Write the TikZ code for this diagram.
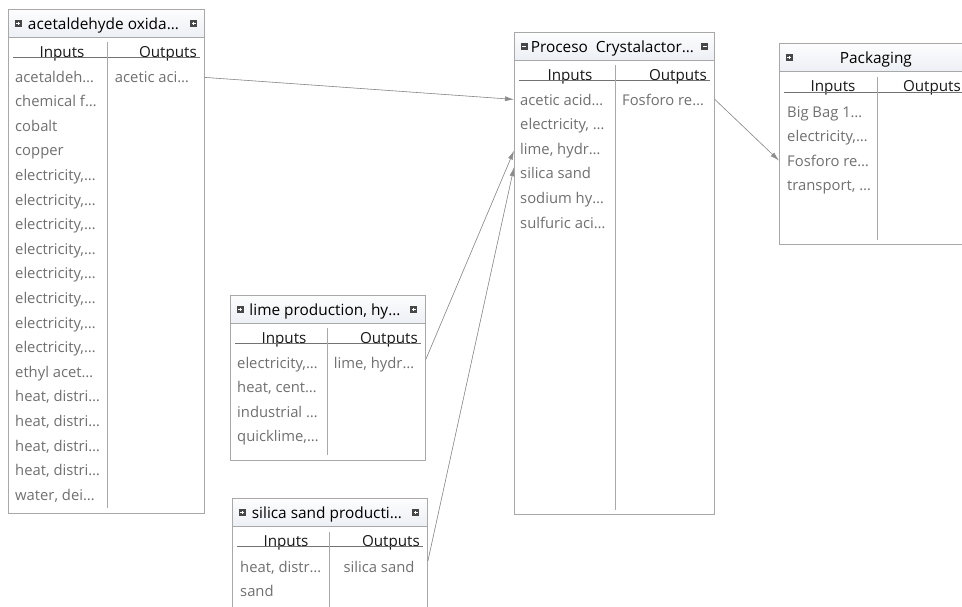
\documentclass[tikz,border=0pt]{standalone}
\usepackage{fontspec}
\setmainfont{Open Sans}
\usepackage{xcolor}
\usetikzlibrary{positioning,arrows.meta}

\definecolor{framegray}{HTML}{A8A8A8}
\definecolor{headtop}{HTML}{FDFDFE}
\definecolor{headbot}{HTML}{ECEFF4}
\definecolor{itemgray}{HTML}{707070}
\definecolor{linegray}{HTML}{8C8C8C}

\begin{document}
\begin{tikzpicture}[
    x=1pt, y=-1pt,
    box/.style={rectangle, draw=framegray, fill=white, line width=0.8pt, anchor=north west, inner sep=0pt},
    head/.style={rectangle, draw=framegray, line width=0.8pt, top color=headtop, bottom color=headbot, anchor=north west, inner sep=0pt, minimum height=28pt},
    title/.style={font=\fontsize{15.4}{17}\selectfont, text=black, inner sep=0pt, text height=11pt, text depth=3.5pt},
    icon/.style={rectangle, fill=black!72, minimum size=7pt, inner sep=0pt},
    plus/.style={icon, path picture={\draw[white, line width=0.7pt]
        ([xshift=1.6pt]path picture bounding box.west) -- ([xshift=-1.6pt]path picture bounding box.east)
        ([yshift=-1.6pt]path picture bounding box.north) -- ([yshift=1.6pt]path picture bounding box.south);}},
    minus/.style={icon, path picture={\draw[white, line width=0.7pt]
        ([xshift=1.6pt]path picture bounding box.west) -- ([xshift=-1.6pt]path picture bounding box.east);}},
    colhead/.style={font=\fontsize{15.2}{17}\selectfont, text=black!90, inner sep=0pt, text height=11pt, text depth=3.5pt},
    item/.style={font=\fontsize{14.8}{17}\selectfont, text=itemgray, anchor=west, inner sep=0pt, text height=11pt, text depth=3.5pt},
    outitem/.style={font=\fontsize{14.8}{17}\selectfont, text=itemgray, inner sep=0pt, text height=11pt, text depth=3.5pt},
    divider/.style={draw=framegray, line width=0.8pt},
    rule/.style={draw=black!55, line width=0.7pt},
    arrow/.style={-{Latex[length=9pt,width=5pt]}, draw=linegray, fill=linegray, line width=0.6pt}
]
    \useasboundingbox (0,0) rectangle (962,606);
    \clip (0,0) rectangle (962,606);

    % acetaldehyde oxidation
    \node[box, minimum width=196pt, minimum height=504pt] (acet) at (8,9) {};
    \node[head, minimum width=196pt] (acet-h) at (acet.north west) {};
    \node[title] at ([shift={(-3pt,-2pt)}]acet-h.center) {acetaldehyde oxida…};
    \node[plus] at ([xshift=10pt]acet-h.west) {};
    \node[plus] at ([xshift=-11pt]acet-h.east) {};
    \node[colhead] at (62,53.5) {Inputs};
    \node[colhead, anchor=east] at (197,53.5) {Outputs};
    \draw[rule] (13,57) -- (200,57);
    \draw[divider] (107,42) -- (107,508);
    \foreach \t [count=\i] in {acetaldeh…, chemical f…, cobalt, copper,
        {electricity,…}, {electricity,…}, {electricity,…}, {electricity,…},
        {electricity,…}, {electricity,…}, {electricity,…}, {electricity,…},
        ethyl acet…, {heat, distri…}, {heat, distri…}, {heat, distri…},
        {heat, distri…}, {water, dei…}}
        \node[item] (acet-in\i) at (15,53.8+24.6*\i) {\t};
    \node[outitem] (acet-out1) at (152,78.4) {acetic aci…};

    % Proceso Crystalactor
    \node[box, minimum width=200pt, minimum height=482pt] (cryst) at (514,32) {};
    \node[head, minimum width=200pt] (cryst-h) at (cryst.north west) {};
    \node[title] at ([shift={(-2pt,-2pt)}]cryst-h.center) {Proceso\ \ Crystalactor…};
    \node[minus] at ([xshift=10pt]cryst-h.west) {};
    \node[minus] at ([xshift=-10pt]cryst-h.east) {};
    \node[colhead] at (570,76.5) {Inputs};
    \node[colhead, anchor=east] at (707,76.5) {Outputs};
    \draw[rule] (519,80) -- (710,80);
    \draw[divider] (615,65) -- (615,510);
    \foreach \t [count=\i] in {acetic acid…, {electricity, …}, {lime, hydr…},
        silica sand, sodium hy…, sulfuric aci…}
        \node[item] (cryst-in\i) at (520,76.8+24.6*\i) {\t};
    \node[outitem] (cryst-out1) at (663,101.4) {Fosforo re…};

    % Packaging
    \node[box, minimum width=193pt, minimum height=201pt] (pack) at (779,43) {};
    \node[head, minimum width=193pt] (pack-h) at (pack.north west) {};
    \node[title] at ([yshift=-2pt]pack-h.center) {Packaging};
    \node[plus] at ([xshift=10pt]pack-h.west) {};
    \node[colhead] at (833,87.5) {Inputs};
    \node[colhead, anchor=east] at (961,87.5) {Outputs};
    \draw[rule] (784,92) -- (968,92);
    \draw[divider] (877,77) -- (877,240);
    \foreach \t [count=\i] in {Big Bag 1…, {electricity,…}, Fosforo re…, {transport, …}}
        \node[item] (pack-in\i) at (787,88.8+24.6*\i) {\t};

    % lime production
    \node[box, minimum width=195pt, minimum height=165pt] (lime) at (230,295) {};
    \node[head, minimum width=195pt] (lime-h) at (lime.north west) {};
    \node[title] at ([shift={(-3pt,-2pt)}]lime-h.center) {lime production, hy…};
    \node[plus] at ([xshift=10pt]lime-h.west) {};
    \node[plus] at ([xshift=-12pt]lime-h.east) {};
    \node[colhead] at (284,339.5) {Inputs};
    \node[colhead, anchor=east] at (418,339.5) {Outputs};
    \draw[rule] (235,343) -- (421,343);
    \draw[divider] (327,328) -- (327,455);
    \foreach \t [count=\i] in {{electricity,…}, {heat, cent…}, industrial …, {quicklime,…}}
        \node[item] (lime-in\i) at (237,339.8+24.6*\i) {\t};
    \node[outitem] (lime-out1) at (374,364.4) {lime, hydr…};

    % silica sand production
    \node[box, minimum width=195pt, minimum height=130pt] (silica) at (232,498) {};
    \node[head, minimum width=195pt] (silica-h) at (silica.north west) {};
    \node[title] at ([shift={(-3pt,-2pt)}]silica-h.center) {silica sand producti…};
    \node[plus] at ([xshift=10pt]silica-h.west) {};
    \node[plus] at ([xshift=-12pt]silica-h.east) {};
    \node[colhead] at (286,542.5) {Inputs};
    \node[colhead, anchor=east] at (420,542.5) {Outputs};
    \draw[rule] (237,546) -- (423,546);
    \draw[divider] (329,532) -- (329,620);
    \foreach \t [count=\i] in {{heat, distr…}, sand}
        \node[item] (silica-in\i) at (240,543.8+24.6*\i) {\t};
    \node[outitem] (silica-out1) at (379,568.4) {silica sand};

    % flows
    \draw[arrow] ([yshift=1pt]acet.east |- acet-out1) -- ([yshift=2pt]cryst.west |- cryst-in1);
    \draw[arrow] ([yshift=5pt]lime.east |- lime-out1) -- ([yshift=0pt]cryst.west |- cryst-in3);
    \draw[arrow] ([yshift=7pt]silica.east |- silica-out1) -- ([yshift=8pt]cryst.west |- cryst-in4);
    \draw[arrow] ([yshift=2pt]cryst.east |- cryst-out1) -- ([yshift=2pt]pack.west |- pack-in3);
\end{tikzpicture}
\end{document}
